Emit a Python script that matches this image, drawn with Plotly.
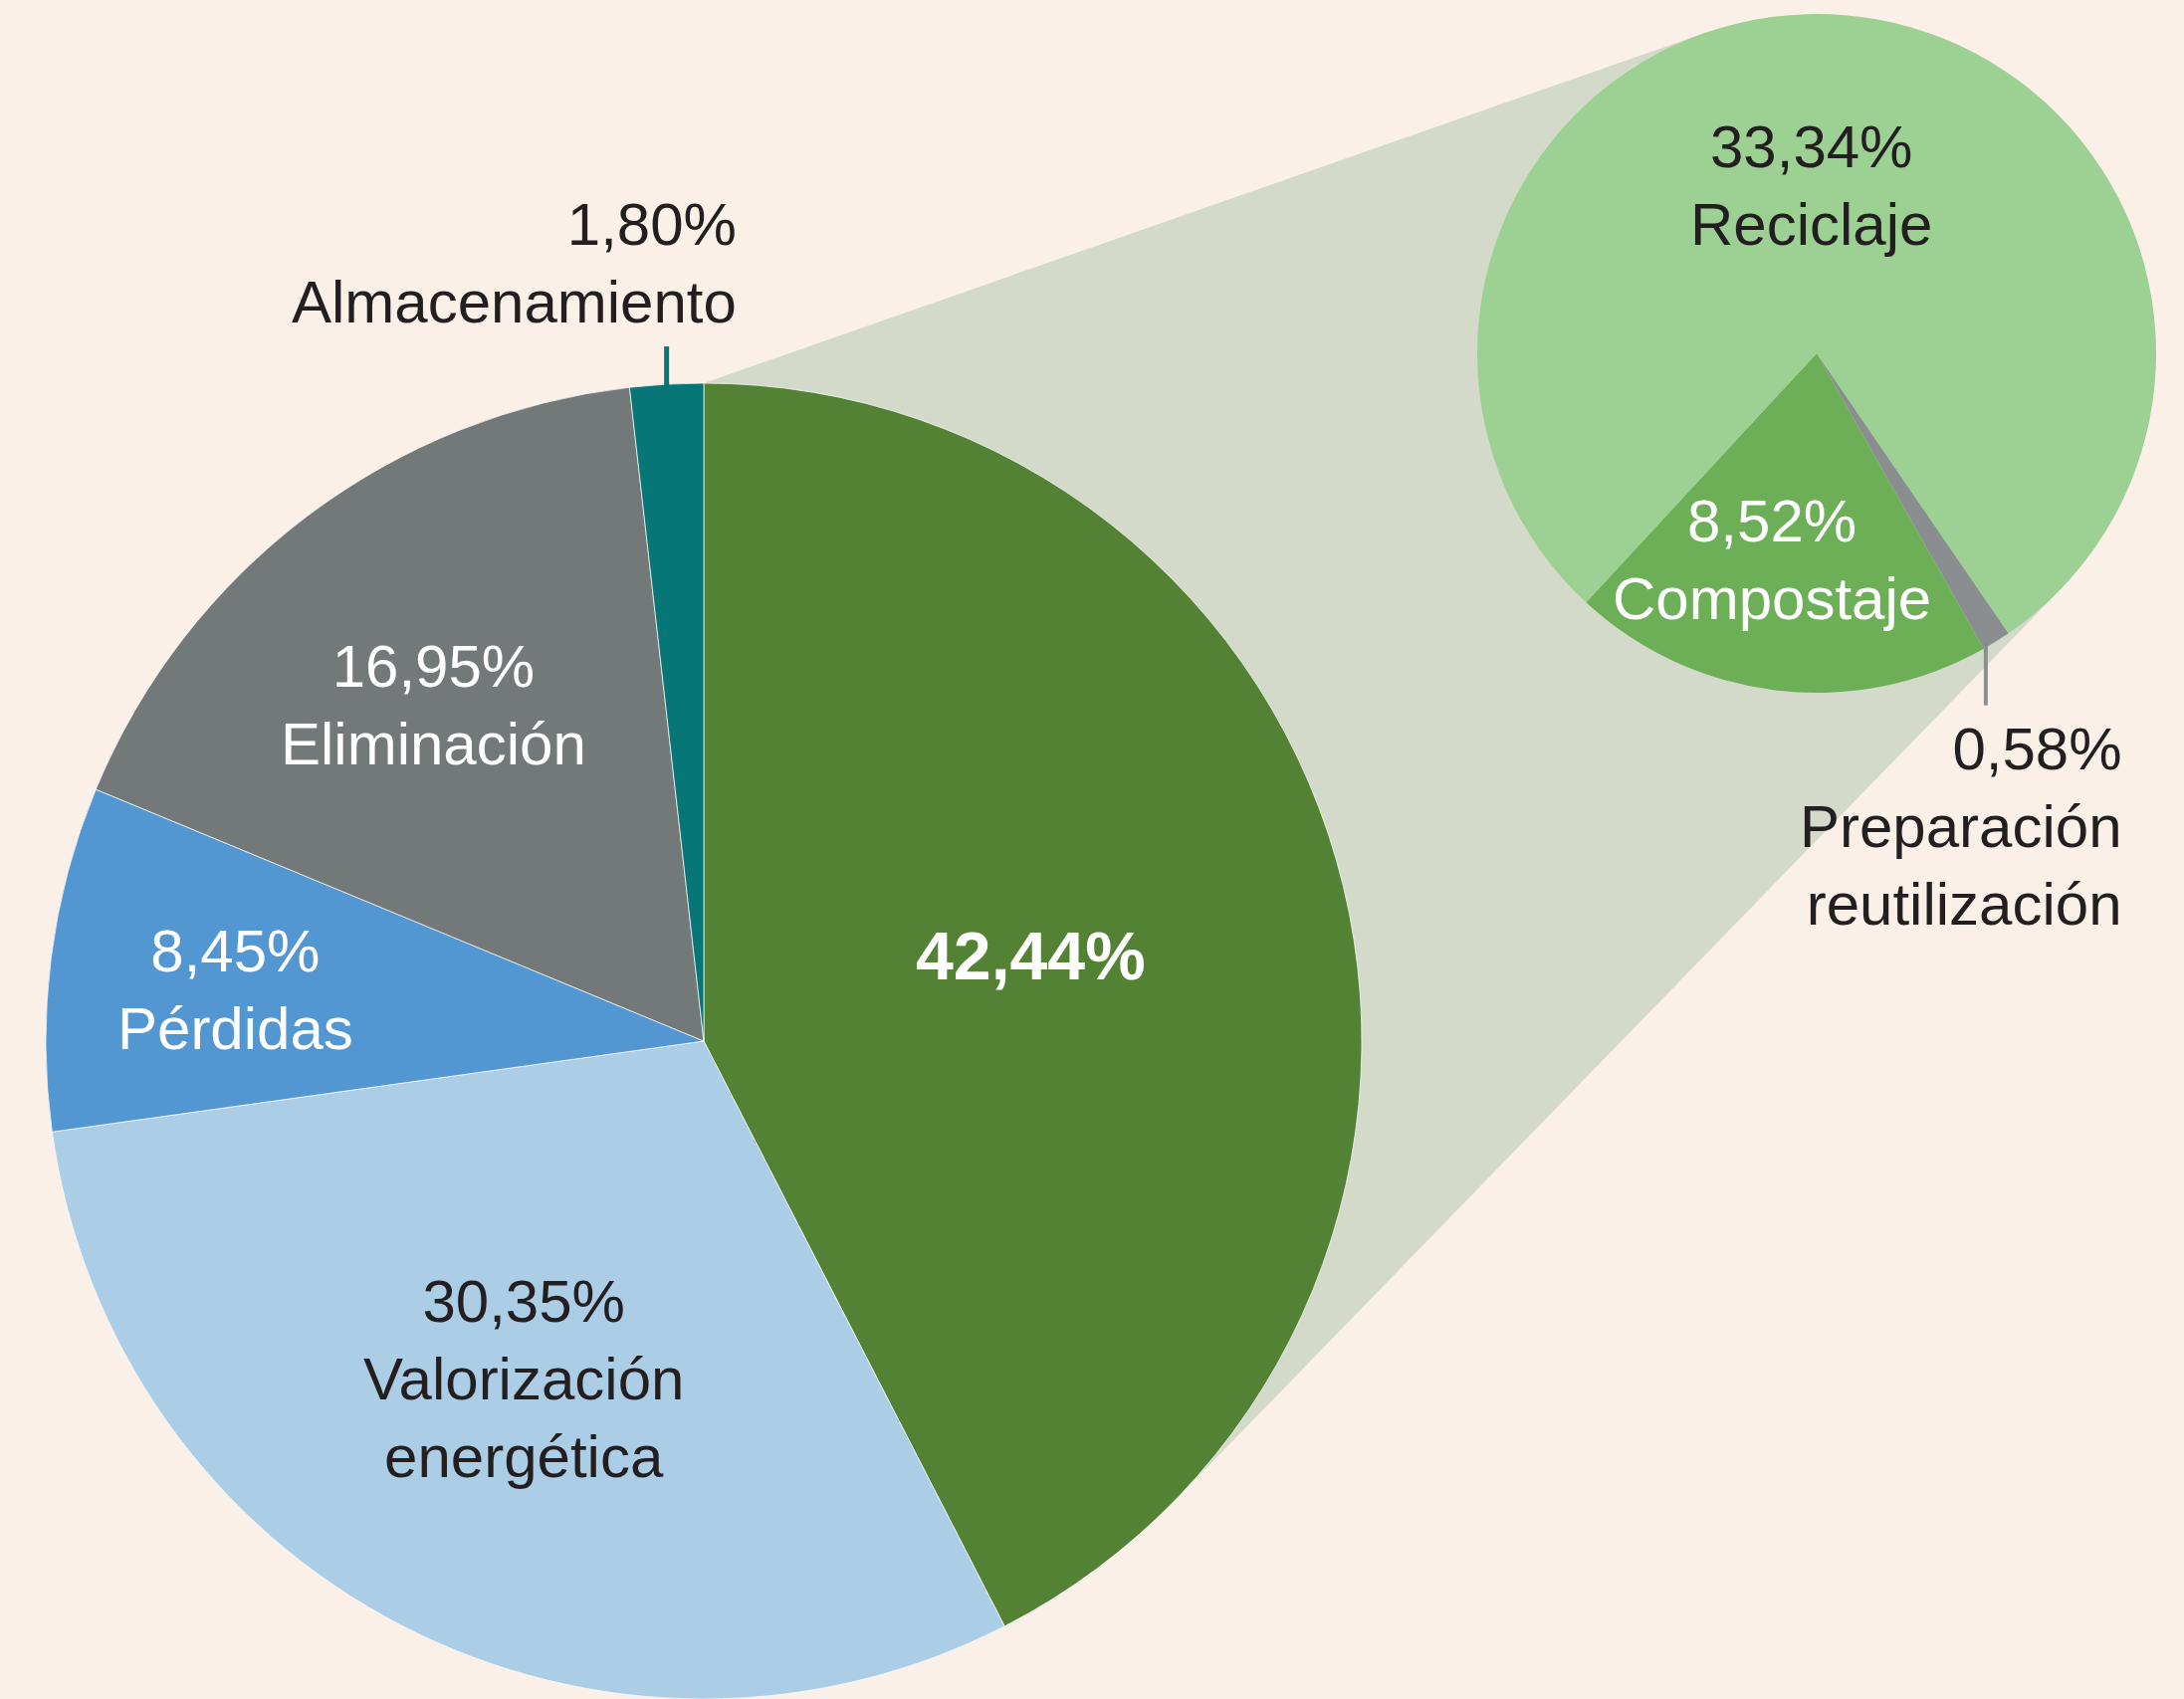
import math
import plotly.graph_objects as go

# main pie: destination of the waste (%)
main_names = ["Reciclaje, compostaje y preparación", "Valorización<br>energética",
              "Pérdidas", "Eliminación", "Almacenamiento"]
main_values = [42.44, 30.35, 8.45, 16.95, 1.80]
main_colors = ["#548235", "#abcde6", "#5296d2", "#737878", "#077676"]

# second pie: breakdown of the 42,44% slice
sub_names = ["Preparación<br>reutilización", "Compostaje", "Reciclaje"]
sub_values = [0.58, 8.52, 33.34]
sub_colors = ["#8a8e90", "#6daf57", "#9dd093"]

W, H = 2194, 1707
BG = "#fbf0e8"
DARK = "#231f20"
FONT = "Liberation Sans, Arial, sans-serif"

# geometry in pixels
MX, MY, MR = 707, 1046, 661
SX, SY, SR = 1825, 355, 341
SUB_ROT = 145.6


def px(x):
    return x / W


def py(y):
    return 1 - y / H


def pct(v):
    return f"{v:.2f}".replace(".", ",") + "%"


fig = go.Figure()
fig.add_trace(go.Pie(
    labels=main_names, values=main_values, sort=False, direction="clockwise", rotation=0,
    marker=dict(colors=main_colors, line=dict(color="rgba(255,255,255,0.7)", width=1)),
    textinfo="none", hoverinfo="label+value", showlegend=False,
    domain=dict(x=[px(MX - MR), px(MX + MR)], y=[py(MY + MR), py(MY - MR)]),
))
fig.add_trace(go.Pie(
    labels=sub_names, values=sub_values, sort=False, direction="clockwise", rotation=SUB_ROT,
    marker=dict(colors=sub_colors, line=dict(width=0)),
    textinfo="none", hoverinfo="label+value", showlegend=False,
    domain=dict(x=[px(SX - SR), px(SX + SR)], y=[py(SY + SR), py(SY - SR)]),
))

# connector band: from top of main pie tangent to the small pie, and common lower tangent
P = (MX, MY - MR)
dx, dy = SX - P[0], SY - P[1]
d = math.hypot(dx, dy)
th = math.atan2(dy, dx) - math.asin(SR / d)
L = math.sqrt(d * d - SR * SR)
T_up = (P[0] + L * math.cos(th), P[1] + L * math.sin(th))
Dx, Dy = SX - MX, SY - MY
D = math.hypot(Dx, Dy)
phi = math.atan2(Dy, Dx) + math.acos((MR - SR) / D)
n = (math.cos(phi), math.sin(phi))
T_ls = (SX + SR * n[0], SY + SR * n[1])
T_lm = (MX + MR * n[0], MY + MR * n[1])
pts = [P, T_up, T_ls, T_lm]
path = "M " + " L ".join(f"{px(x):.5f},{py(y):.5f}" for x, y in pts) + " Z"
shapes = [dict(type="path", path=path, xref="paper", yref="paper", layer="below",
               fillcolor="#d3dac9", line=dict(width=0))]

# leader lines for the thin slices
tot = sum(main_values)
a = (sum(main_values[:4]) + main_values[4] / 2) / tot * 2 * math.pi
lx, ly = MX + MR * math.sin(a), MY - MR * math.cos(a)
shapes.append(dict(type="line", xref="paper", yref="paper", x0=px(lx), x1=px(lx),
                   y0=py(ly + 2), y1=py(ly - 38), line=dict(color="#077676", width=5)))
stot = sum(sub_values)
a = math.radians(SUB_ROT) + sub_values[0] / stot * 2 * math.pi - math.radians(0.4)
lx, ly = SX + SR * math.sin(a), SY - SR * math.cos(a)
shapes.append(dict(type="line", xref="paper", yref="paper", x0=px(lx), x1=px(lx),
                   y0=py(ly - 4), y1=py(ly + 58), line=dict(color="#8a8e90", width=4)))

annotations = []
# main pie labels
main_pos = [(1035, 960, "center"), (526, 1385, "center"), (236, 994, "center"),
            (435, 708, "center"), (742, 264, "right")]
main_font = ["white", DARK, "white", "white", DARK]
for i, v in enumerate(main_values):
    x, y, anc = main_pos[i]
    if i == 0:
        txt, size = "<b>" + pct(v) + "</b>", 68
    else:
        txt, size = pct(v) + "<br>" + main_names[i], 60
    annotations.append(dict(x=px(x), y=py(y), xref="paper", yref="paper", text=txt,
                            showarrow=False, xanchor=anc, yanchor="middle", align=anc,
                            font=dict(family=FONT, size=size, color=main_font[i])))

sub_pos = [(2134, 830, "right"), (1780, 562, "center"), (1819, 187, "center")]
sub_font = [DARK, "white", DARK]
for i, v in enumerate(sub_values):
    x, y, anc = sub_pos[i]
    annotations.append(dict(x=px(x), y=py(y), xref="paper", yref="paper",
                            text=pct(v) + "<br>" + sub_names[i],
                            showarrow=False, xanchor=anc, yanchor="middle", align=anc,
                            font=dict(family=FONT, size=60, color=sub_font[i])))

fig.update_layout(
    width=W, height=H,
    margin=dict(l=0, r=0, t=0, b=0),
    paper_bgcolor=BG, plot_bgcolor=BG,
    shapes=shapes, annotations=annotations,
    showlegend=False,
)
fig.write_html(
    "out.html",
    config=dict(displayModeBar=False),
    post_script="document.body.style.margin='0';document.body.style.backgroundColor='" + BG + "';",
)
